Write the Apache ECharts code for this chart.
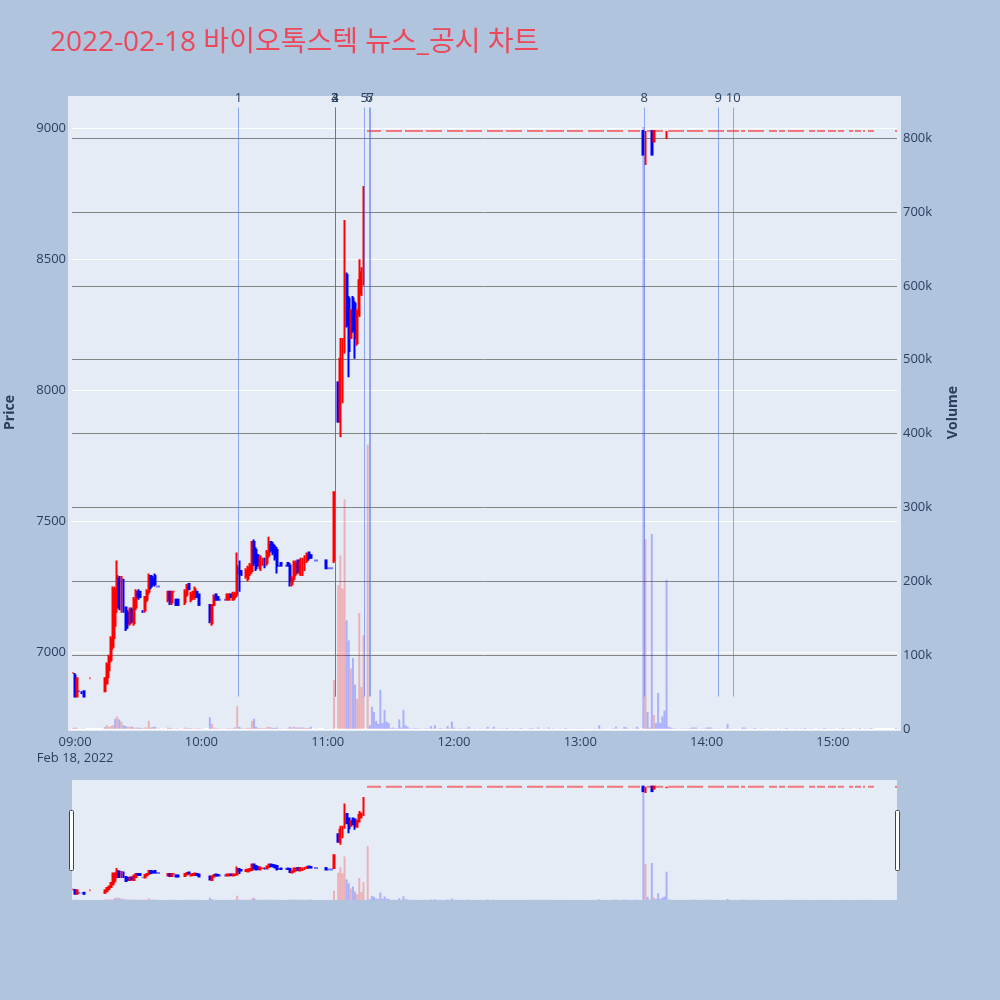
<!DOCTYPE html>
<html><head><meta charset="utf-8">
<script src="https://cdn.jsdelivr.net/npm/echarts@6/dist/echarts.min.js"></script>
<style>html,body{margin:0;padding:0;background:#B0C4DE;}#chart{width:1000px;height:1000px;}</style>
</head><body><div id="chart"></div>
<script>
// ---------- DATA ----------
const chartTitle = '2022-02-18 바이오톡스텍 뉴스_공시 차트';
const dateLabel = 'Feb 18, 2022';

// minute candles with movement
const candleTimes = ['09:00','09:01','09:03','09:04','09:14','09:15','09:16','09:17','09:18','09:19',
 '09:20','09:21','09:22','09:23','09:24','09:25','09:26','09:27','09:28','09:29',
 '09:30','09:31','09:32','09:33','09:34','09:35','09:36','09:37','09:38','09:44',
 '09:45','09:46','09:48','09:49','09:52','09:53','09:54','09:55','09:56','09:57',
 '09:58','09:59','10:04','10:05','10:06','10:07','10:08','10:12','10:13','10:14',
 '10:15','10:16','10:17','10:18','10:19','10:21','10:22','10:23','10:24','10:25',
 '10:26','10:27','10:28','10:29','10:30','10:31','10:32','10:33','10:34','10:35',
 '10:36','10:38','10:41','10:42','10:43','10:44','10:45','10:46','10:47','10:48',
 '10:49','10:50','10:51','10:52','10:59','11:03','11:05','11:06','11:07','11:08',
 '11:09','11:10','11:11','11:12','11:13','11:14','11:15','11:16','11:17','13:30',
 '13:31','13:34','13:35','13:41'];
const opens = [6910,6830,6850,6850,6850,6880,6930,6970,7020,7100,
 7170,7280,7170,7270,7170,7150,7110,7160,7110,7170,
 7230,7230,7160,7160,7200,7230,7290,7280,7290,7200,
 7230,7190,7200,7200,7190,7220,7260,7200,7210,7210,
 7230,7220,7180,7110,7180,7220,7210,7200,7200,7220,
 7200,7210,7220,7320,7310,7290,7280,7300,7310,7420,
 7390,7370,7320,7330,7350,7340,7370,7420,7410,7400,
 7390,7340,7340,7330,7260,7280,7300,7350,7300,7300,
 7320,7350,7380,7370,7350,7350,8030,7880,7960,8150,
 8440,8350,8200,8350,8330,8180,8290,8370,8410,8990,
 8920,8990,8950,8960];
const highs = [6920,6900,6850,6850,6900,6960,6990,7060,7250,7250,
 7350,7290,7290,7280,7170,7160,7170,7170,7210,7240,
 7240,7230,7160,7210,7240,7300,7290,7290,7300,7230,
 7230,7230,7200,7200,7240,7260,7260,7230,7230,7250,
 7230,7220,7180,7180,7220,7220,7210,7220,7220,7220,
 7230,7230,7380,7350,7310,7320,7330,7340,7420,7430,
 7400,7370,7370,7360,7360,7390,7440,7420,7420,7410,
 7400,7340,7340,7340,7290,7350,7350,7350,7360,7360,
 7370,7380,7380,7370,7350,7610,8030,8200,8200,8650,
 8450,8360,8310,8360,8340,8310,8500,8470,8780,8990,
 8990,8990,8990,8990];
const lows = [6830,6830,6840,6830,6850,6880,6900,6960,7010,7050,
 7150,7160,7150,7150,7080,7090,7100,7110,7100,7160,
 7200,7210,7150,7150,7190,7220,7240,7250,7250,7190,
 7180,7180,7180,7180,7180,7210,7240,7190,7200,7200,
 7210,7180,7110,7100,7180,7200,7200,7200,7200,7210,
 7200,7200,7210,7230,7290,7280,7270,7290,7300,7330,
 7310,7330,7310,7330,7320,7330,7360,7380,7370,7350,
 7300,7330,7330,7250,7250,7270,7290,7300,7290,7290,
 7310,7340,7350,7360,7320,7340,7880,7820,7950,8140,
 8240,8050,8200,8220,8120,8170,8280,8360,8400,8900,
 8860,8900,8950,8960];
const closes = [6830,6900,6840,6830,6900,6950,6980,7050,7240,7240,
 7290,7170,7280,7170,7090,7110,7160,7120,7200,7230,
 7210,7210,7150,7210,7230,7290,7250,7260,7260,7230,
 7190,7230,7180,7180,7230,7250,7240,7220,7230,7240,
 7210,7180,7120,7180,7210,7200,7200,7220,7220,7210,
 7220,7220,7330,7300,7300,7310,7320,7330,7420,7340,
 7320,7330,7360,7350,7330,7380,7410,7390,7380,7360,
 7330,7330,7330,7270,7280,7340,7340,7310,7350,7350,
 7360,7370,7360,7360,7320,7610,7880,8120,8190,8440,
 8250,8150,8300,8230,8200,8300,8420,8450,8780,8900,
 8990,8900,8990,8990];
const volumes = [2000,1500,500,800,2500,5000,3000,4000,5000,14000,
 17000,13000,10000,5000,4000,3000,3000,3000,2000,2000,
 2000,1500,1000,2000,2000,11000,2000,3000,3000,2000,
 1500,1000,800,800,2000,1500,1000,1000,800,1000,
 800,1000,16000,7000,2000,1000,800,1000,1000,800,
 1000,2000,31000,3000,1500,1500,1500,1500,11000,14000,
 3000,1500,1500,1000,1000,2000,3000,2000,1500,1500,
 2000,800,800,3000,2000,3000,2000,2000,2000,2000,
 1500,1500,1500,3000,1000,66000,195000,235000,190000,311000,
 147000,120000,82000,96000,60000,41000,157000,57000,127000,815000,
 257000,264000,19000,202000];

// single-price minutes (open = high = low = close) before the limit-up
const flatTimes = ['08:59','09:02','09:07','09:39','09:40','09:42','09:47','09:51','10:00','10:01',
 '10:09','10:10','10:11','10:20','10:37','10:39','10:40','10:54','10:55','11:00','11:01','11:02'];
const flatPrices = [6920,6850,6900,7250,7250,7220,7230,7180,7180,7180,
 7200,7200,7200,7300,7330,7330,7330,7350,7350,7320,7320,7320];
const flatVolumes = [1500,300,300,500,500,500,500,400,500,500,
 500,500,500,500,500,500,500,500,500,500,500,500];

// minutes traded at the upper price limit
const limitPrice = 8990;
const limitTimes = [
 '11:19','11:20','11:21','11:22','11:23','11:24','11:25','11:26','11:27','11:28','11:29',
 '11:30','11:31','11:32','11:33','11:34','11:35','11:36','11:37','11:38','11:39',
 '11:40','11:41','11:42','11:43','11:44','11:45','11:46','11:47','11:48','11:49',
 '11:50','11:51','11:52','11:53','11:54','11:55','11:56','11:57','11:58','11:59',
 '12:00','12:01','12:02','12:03','12:04','12:05','12:06','12:07','12:08','12:09',
 '12:10','12:11','12:12','12:13','12:14','12:15','12:16','12:17','12:18','12:19',
 '12:20','12:21','12:22','12:23','12:24','12:25','12:26','12:27','12:28','12:29',
 '12:30','12:31','12:32','12:33','12:34','12:35','12:36','12:37','12:38','12:39',
 '12:40','12:41','12:42','12:43','12:44','12:45','12:46','12:47','12:48','12:49',
 '12:50','12:51','12:52','12:53','12:54','12:55','12:56','12:57','12:58','12:59',
 '13:00','13:01','13:02','13:03','13:04','13:05','13:06','13:07','13:08','13:09',
 '13:10','13:11','13:12','13:13','13:14','13:15','13:16','13:17','13:18','13:19',
 '13:20','13:21','13:22','13:23','13:24','13:25','13:26','13:27','13:28',
 '13:32','13:33','13:36','13:37','13:38','13:39','13:40',
 '13:42','13:43','13:44','13:45','13:46','13:47','13:48','13:49','13:50','13:51','13:52','13:53','13:54','13:55','13:56','13:57','13:58','13:59',
 '14:00','14:01','14:02','14:03','14:04','14:05','14:06','14:07','14:08','14:09','14:10','14:11','14:12','14:13','14:14','14:15',
 '14:17','14:18','14:19','14:20','14:21','14:22','14:23','14:24','14:25','14:26','14:27','14:28',
 '14:30','14:31','14:32','14:33',
 '14:35','14:36','14:37','14:38','14:39','14:40','14:41','14:42','14:43','14:44','14:45','14:46','14:47','14:48','14:49','14:50','14:51',
 '14:53','14:54','14:55','14:56','14:57','14:58','14:59','15:00','15:01',
 '15:03','15:04','15:05','15:06','15:07','15:08','15:09',
 '15:11','15:12','15:13',
 '15:15','15:16','15:17','15:18','15:19',
 '15:30'];
const limitVolumes = [
 385000,5000,30000,23000,11000,7000,53000,8000,26000,10000,8000,
 1000,2000,800,1000,13000,2000,26000,5000,3000,1000,
 600,800,1200,600,900,500,700,1000,600,4000,
 800,5000,600,900,1200,500,700,4000,900,10000,
 2000,800,600,1000,500,700,900,3000,600,500,
 800,400,600,900,500,700,3000,600,800,3000,
 500,700,600,900,500,1500,600,400,700,500,
 600,800,1500,500,400,700,900,1500,600,500,
 2000,600,400,700,500,2000,600,800,500,400,
 600,700,500,1500,600,500,400,700,600,500,
 800,600,500,700,400,600,500,800,600,5000,
 700,500,600,400,500,700,800,3000,600,500,
 700,3000,2000,600,500,700,600,3000,800,
 23000,2000,8000,49000,8000,17000,25000,
 3000,2000,1000,800,600,500,700,600,900,500,1000,2000,2000,2000,600,500,800,600,
 2000,2000,2000,700,500,600,800,500,400,600,7000,700,600,500,400,600,
 2000,2000,800,600,500,700,1500,600,500,800,600,500,
 700,600,500,800,
 600,500,700,1500,600,500,400,700,600,500,800,600,1500,500,700,600,500,
 600,700,500,1500,600,500,800,600,500,
 700,600,1500,500,600,800,500,
 600,500,1500,
 700,600,500,1500,600,
 1500];

// news / disclosure markers
const newsTimes = ['10:17:35','11:03:30','11:03:30','11:03:30','11:17:20','11:19:45','11:20:15','13:30:20','14:05:30','14:12:40'];
const newsLabels = ['1','2','3','4','5','6','7','8','9','10'];

// axis ticks
const timeTicks = ['09:00','10:00','11:00','12:00','13:00','14:00','15:00'];
const priceTicks = [7000,7500,8000,8500,9000];
const volumeTicks = [0,100000,200000,300000,400000,500000,600000,700000,800000];

// ---------- BUILD ----------
const RED = '#FF0000', BLUE = '#0000FF';
const RED_V = 'rgba(255,0,0,0.25)', BLUE_V = 'rgba(0,0,255,0.25)';
const TXT = '#2a3f5f';
const FONT = '"Open Sans", "Noto Sans CJK KR", verdana, arial, sans-serif';
const toMin = t => { const p = t.split(':').map(Number); return (p[0] - 9) * 60 + p[1] + (p[2] || 0) / 60; };
const fmtMin = m => { const h = 9 + Math.floor(m / 60), mm = Math.round(m % 60); return String(h).padStart(2, '0') + ':' + String(mm).padStart(2, '0'); };

const rows = [];
candleTimes.forEach((t, i) => rows.push({ x: toMin(t), o: opens[i], h: highs[i], l: lows[i], c: closes[i], v: volumes[i] }));
flatTimes.forEach((t, i) => rows.push({ x: toMin(t), o: flatPrices[i], h: flatPrices[i], l: flatPrices[i], c: flatPrices[i], v: flatVolumes[i] }));
limitTimes.forEach((t, i) => rows.push({ x: toMin(t), o: limitPrice, h: limitPrice, l: limitPrice, c: limitPrice, v: limitVolumes[i] }));
rows.sort((a, b) => a.x - b.x);

const candleData = [], volData = [];
let prevC = null, prevUp = true;
rows.forEach(r => {
  let up;
  if (r.c > r.o) up = true; else if (r.c < r.o) up = false;
  else up = (prevC !== null && r.c !== prevC) ? r.c > prevC : prevUp;
  const col = up ? RED : BLUE;
  const volUp = prevC === null ? true : r.c > prevC;
  candleData.push({ value: [r.x, r.o, r.c, r.l, r.h], itemStyle: { color: col, color0: col, borderColor: col, borderColor0: col } });
  volData.push({ value: [r.x, r.v], itemStyle: { color: volUp ? RED_V : BLUE_V } });
  prevC = r.c; prevUp = up;
});

const allLows = rows.map(r => r.l), allHighs = rows.map(r => r.h);
const newsLow = Math.min(...allLows), newsHigh = Math.max(...allHighs) * 1.01;

const XMIN = -1.5, XMAX = 390.5;
const PMIN = 6706, PMAX = 9124, VMAX = 857000;

const newsLines = newsTimes.map((t, i) => [
  { coord: [toMin(t), newsLow], name: newsLabels[i] },
  { coord: [toMin(t), newsHigh] }
]);

const chart = echarts.init(document.getElementById('chart'), null, { renderer: 'canvas' });
const option = {
  backgroundColor: '#B0C4DE',
  animation: false,
  textStyle: { fontFamily: FONT },
  title: {
    text: chartTitle, left: 45, top: 24,
    textStyle: { color: '#EC485A', fontSize: 28, fontWeight: 'normal', fontFamily: FONT }
  },
  graphic: { elements: [
    { type: 'rect', z: -10, silent: true, shape: { x: 68, y: 96, width: 833, height: 635 }, style: { fill: '#E5ECF6' } },
    { type: 'rect', z: 100, silent: true, shape: { x: 69.5, y: 810.5, width: 4, height: 60, r: 1 }, style: { fill: '#ffffff', stroke: '#444', lineWidth: 1 } },
    { type: 'rect', z: 100, silent: true, shape: { x: 895.5, y: 810.5, width: 4, height: 60, r: 1 }, style: { fill: '#ffffff', stroke: '#444', lineWidth: 1 } }
  ] },
  grid: [
    { left: 72, top: 96, width: 825, height: 633, outerBoundsMode: 'none', containLabel: false },
    { left: 72, top: 780, width: 825, height: 120, show: true, backgroundColor: '#E5ECF6', borderWidth: 0, outerBoundsMode: 'none', containLabel: false }
  ],
  xAxis: [
    { type: 'value', gridIndex: 0, min: XMIN, max: XMAX,
      axisLine: { show: true, onZero: false, lineStyle: { color: '#ffffff', width: 2 } },
      axisTick: { show: false, customValues: timeTicks.map(toMin) },
      splitLine: { show: false },
      axisLabel: { customValues: timeTicks.map(toMin), color: TXT, fontSize: 13, margin: 5, lineHeight: 16, fontFamily: FONT,
        formatter: (v) => v === 0 ? fmtMin(v) + '\n' + dateLabel : fmtMin(v) } },
    { type: 'value', gridIndex: 1, min: XMIN, max: XMAX, show: false, splitLine: { show: false } }
  ],
  yAxis: [
    { type: 'value', gridIndex: 0, position: 'left', min: PMIN, max: PMAX,
      axisLine: { show: false }, axisTick: { show: false, customValues: priceTicks },
      axisLabel: { customValues: priceTicks, color: TXT, fontSize: 13, margin: 6, fontFamily: FONT, formatter: v => String(v) },
      splitLine: { show: true, lineStyle: { color: '#ffffff', width: 1 } },
      name: 'Price', nameLocation: 'middle', nameGap: 55, nameRotate: 90, nameMoveOverlap: false,
      nameTextStyle: { color: TXT, fontSize: 14, fontWeight: 'bold', fontFamily: FONT } },
    { type: 'value', gridIndex: 0, position: 'right', min: 0, max: VMAX,
      axisLine: { show: false }, axisTick: { show: false, customValues: volumeTicks.slice(1) },
      axisLabel: { customValues: volumeTicks, color: TXT, fontSize: 13, margin: 6, fontFamily: FONT,
        formatter: v => v === 0 ? '0' : (v / 1000) + 'k' },
      splitLine: { show: true, lineStyle: { color: '#858585', width: 1 } },
      name: 'Volume', nameLocation: 'middle', nameGap: 49, nameRotate: 90, nameMoveOverlap: false,
      nameTextStyle: { color: TXT, fontSize: 14, fontWeight: 'bold', fontFamily: FONT } },
    { type: 'value', gridIndex: 1, min: PMIN, max: PMAX, show: false, splitLine: { show: false } },
    { type: 'value', gridIndex: 1, min: 0, max: VMAX, show: false, splitLine: { show: false } }
  ],
  series: [
    { type: 'bar', name: 'Volume', xAxisIndex: 0, yAxisIndex: 1, data: volData, barWidth: 2, z: 2, silent: true },
    { type: 'candlestick', name: 'Price', xAxisIndex: 0, yAxisIndex: 0, data: candleData, encode: { x: 0, y: [1, 2, 3, 4] },
      barWidth: 1.35, itemStyle: { borderWidth: 2 }, z: 3, silent: true,
      markLine: { silent: true, animation: false, symbol: ['none', 'none'],
        lineStyle: { color: 'rgba(70,105,235,0.55)', width: 1, type: 'solid' },
        label: { show: true, position: 'end', formatter: '{b}', color: TXT, fontSize: 13, distance: 3, fontFamily: FONT },
        emphasis: { disabled: true },
        data: newsLines } },
    { type: 'bar', xAxisIndex: 1, yAxisIndex: 3, data: volData, barWidth: 2, z: 2, silent: true },
    { type: 'candlestick', xAxisIndex: 1, yAxisIndex: 2, data: candleData, encode: { x: 0, y: [1, 2, 3, 4] },
      barWidth: 1.35, itemStyle: { borderWidth: 2 }, z: 3, silent: true }
  ]
};
chart.setOption(option);
</script></body></html>
